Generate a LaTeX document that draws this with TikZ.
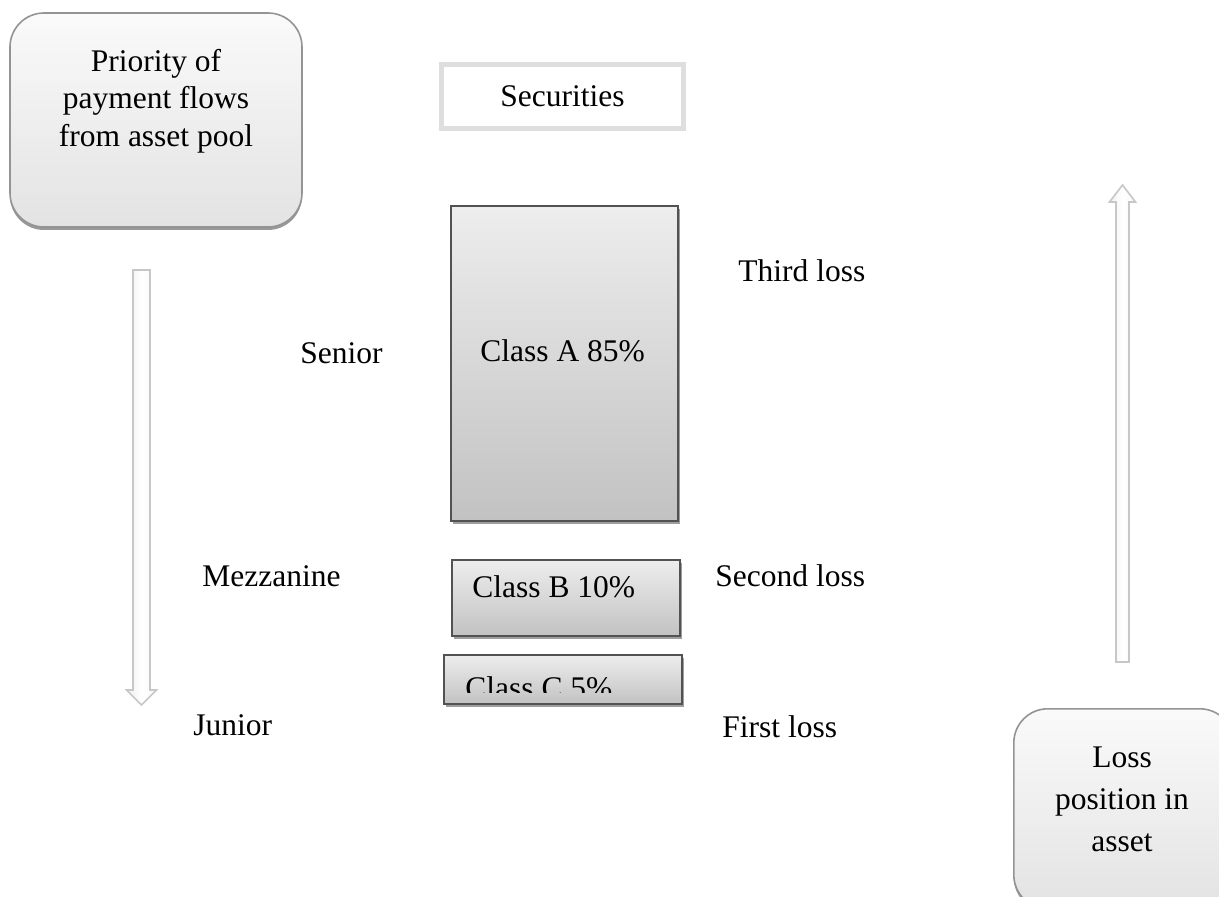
\documentclass[tikz,border=0pt]{standalone}
\usepackage{fontspec}
\setmainfont{Liberation Serif}
\usetikzlibrary{positioning}

\begin{document}
\begin{tikzpicture}[
  x=0.5pt, y=-0.5pt,
  every node/.style={font=\fontsize{15.75}{21}\selectfont},
  lbl/.style={anchor=base west, inner sep=0pt},
  tranche/.style={rectangle, draw=black!68, line width=1.1pt, top color=black!7, bottom color=black!24, inner sep=0pt,
    preaction={fill=black!38, transform canvas={xshift=1pt, yshift=-1.5pt}}},
  rbox/.style={rectangle, rounded corners=17pt, draw=black!42, line width=0.8pt, top color=black!2, bottom color=black!11,
    inner sep=0pt, align=center, preaction={fill=black!40, transform canvas={yshift=-1.5pt}}},
  sec/.style={rectangle, draw=black!13, line width=2.5pt, fill=white, inner sep=0pt},
  flow/.style={draw=black!22, line width=0.8pt, left color=black!6, right color=black!3, middle color=white}
]
\useasboundingbox (0,0) rectangle (1219,897);

% heading boxes
\node[rbox, minimum width=146pt, minimum height=107pt] (prio) at (156,120) {};
\node[align=center, font=\fontsize{15.75}{18.75}\selectfont] (priot) at (156,101) {Priority of\\payment flows\\from asset pool};
\node[rbox, minimum width=110pt, minimum height=100pt, anchor=north west] (loss) at (1013,708) {};
\node[align=center] (losst) at (1122,799) {Loss\\position in\\asset};
\node[sec, minimum width=121pt, minimum height=32pt] (sec) at (562.5,97) {};
\node[lbl] (sect) at (500,107) {Securities};

% tranches
\node[tranche, minimum width=113.5pt, minimum height=157.5pt, anchor=north west] (clA) at (450,205) {};
\node[tranche, minimum width=114pt, minimum height=38pt, anchor=north west] (clB) at (451,559) {};
\node[tranche, minimum width=119pt, minimum height=24.5pt, anchor=north west] (clC) at (443,654) {};
\node[lbl] (clAt) at (480,362) {Class A 85\%};
\node[lbl] (clBt) at (472,597) {Class B 10\%};
\begin{scope}
  \clip (clC.north west) rectangle (681,692);
  \node[lbl] (clCt) at (465,698) {Class C 5\%};
\end{scope}

% rank and loss labels
\node[lbl] (sen) at (300,364) {Senior};
\node[lbl] (mez) at (202,586) {Mezzanine};
\node[lbl] (jun) at (193,735) {Junior};
\node[lbl] (third) at (738,282) {Third loss};
\node[lbl] (second) at (715,586) {Second loss};
\node[lbl] (first) at (722,737) {First loss};

% block arrows
\coordinate (dtop) at (141.5,270);
\coordinate (dtip) at (141.5,705);
\coordinate (utop) at (1122.5,185);
\coordinate (ubot) at (1122.5,662);
\path[flow] ([xshift=-4.25pt]dtop) -- ([xshift=4.25pt]dtop) -- ([xshift=4.25pt,yshift=7.5pt]dtip)
  -- ([xshift=7.5pt,yshift=7.5pt]dtip) -- (dtip) -- ([xshift=-7.5pt,yshift=7.5pt]dtip)
  -- ([xshift=-4.25pt,yshift=7.5pt]dtip) -- cycle;
\path[flow] ([xshift=-3.25pt]ubot) -- ([xshift=3.25pt]ubot) -- ([xshift=3.25pt,yshift=-8.5pt]utop)
  -- ([xshift=6.5pt,yshift=-8.5pt]utop) -- (utop) -- ([xshift=-6.5pt,yshift=-8.5pt]utop)
  -- ([xshift=-3.25pt,yshift=-8.5pt]utop) -- cycle;
\end{tikzpicture}
\end{document}
